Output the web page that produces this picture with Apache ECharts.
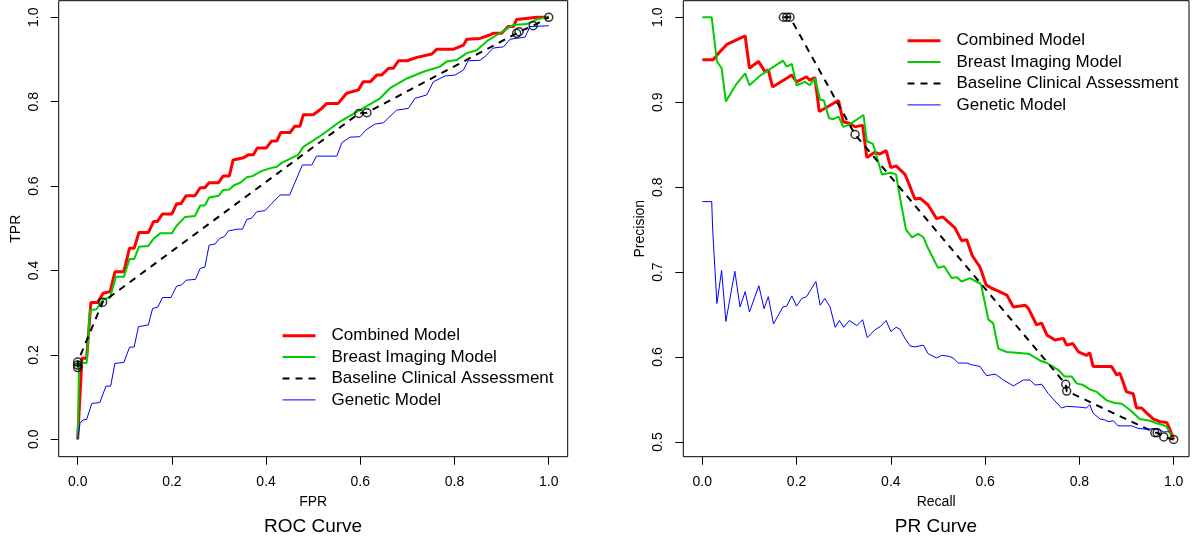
<!DOCTYPE html>
<html>
<head>
<meta charset="utf-8">
<script src="https://cdn.jsdelivr.net/npm/echarts@6/dist/echarts.min.js"></script>
<style>
  html, body { margin: 0; padding: 0; background: #fff; }
  #chart { width: 1194px; height: 542px; }
</style>
</head>
<body>
<div id="chart"></div>
<script>
// --- données ---
const seriesNames = ['Combined Model', 'Breast Imaging Model', 'Baseline Clinical Assessment', 'Genetic Model'];
const rocTicks = [0, 0.2, 0.4, 0.6, 0.8, 1.0];
const prTicksY = [0.5, 0.6, 0.7, 0.8, 0.9, 1.0];

// ROC : [FPR, TPR]
const rocCombined = [
  [0,0],[0.009,0.192],[0.019,0.192],[0.028,0.324],[0.042,0.324],[0.054,0.346],[0.069,0.35],[0.079,0.397],
  [0.098,0.397],[0.110,0.453],[0.120,0.453],[0.130,0.490],[0.150,0.490],[0.161,0.516],[0.169,0.516],
  [0.180,0.534],[0.200,0.534],[0.210,0.558],[0.219,0.558],[0.230,0.577],[0.249,0.577],[0.260,0.596],
  [0.270,0.596],[0.279,0.608],[0.299,0.608],[0.309,0.624],[0.322,0.624],[0.330,0.662],[0.352,0.667],
  [0.362,0.674],[0.373,0.674],[0.381,0.690],[0.400,0.690],[0.412,0.707],[0.423,0.707],[0.431,0.727],
  [0.451,0.727],[0.461,0.742],[0.472,0.742],[0.479,0.769],[0.500,0.769],[0.518,0.784],[0.529,0.796],
  [0.553,0.796],[0.571,0.820],[0.596,0.828],[0.606,0.847],[0.621,0.847],[0.635,0.863],[0.645,0.863],
  [0.660,0.879],[0.670,0.879],[0.681,0.897],[0.699,0.897],[0.720,0.905],[0.752,0.913],[0.762,0.924],
  [0.797,0.924],[0.819,0.934],[0.826,0.948],[0.854,0.950],[0.875,0.958],[0.882,0.962],[0.900,0.962],
  [0.914,0.978],[0.925,0.978],[0.932,0.995],[0.975,1.0],[1.0,1.0]
];
const rocImaging = [
  [0,0],[0.003,0.181],[0.019,0.181],[0.026,0.306],[0.040,0.308],[0.054,0.332],[0.069,0.336],[0.081,0.385],
  [0.098,0.385],[0.110,0.427],[0.120,0.427],[0.130,0.456],[0.150,0.458],[0.161,0.475],[0.175,0.488],
  [0.200,0.488],[0.210,0.506],[0.228,0.527],[0.249,0.529],[0.260,0.554],[0.270,0.554],[0.279,0.573],
  [0.299,0.577],[0.309,0.591],[0.322,0.592],[0.332,0.602],[0.345,0.608],[0.359,0.621],[0.372,0.624],
  [0.391,0.636],[0.408,0.642],[0.423,0.646],[0.433,0.655],[0.468,0.674],[0.479,0.693],[0.493,0.703],
  [0.518,0.721],[0.557,0.753],[0.599,0.780],[0.642,0.808],[0.663,0.832],[0.699,0.855],[0.734,0.871],
  [0.769,0.883],[0.783,0.895],[0.805,0.899],[0.826,0.915],[0.847,0.922],[0.872,0.946],[0.890,0.958],
  [0.925,0.982],[0.953,0.984],[0.975,0.995],[0.996,1.0],[1.0,1.0]
];
const rocBaseline = [
  [0,0.170],[0,0.176],[0,0.183],[0.053,0.325],[0.597,0.772],[0.614,0.774],
  [0.932,0.962],[0.937,0.966],[0.967,0.980],[1.0,1.0]
];
const rocGenetic = [
  [0,0],[0.005,0.038],[0.011,0.046],[0.019,0.047],[0.030,0.085],[0.047,0.087],[0.060,0.126],[0.070,0.126],
  [0.079,0.180],[0.098,0.182],[0.110,0.218],[0.120,0.219],[0.129,0.267],[0.150,0.271],[0.159,0.310],
  [0.170,0.313],[0.180,0.336],[0.198,0.336],[0.210,0.363],[0.221,0.366],[0.230,0.377],[0.250,0.379],
  [0.260,0.405],[0.270,0.408],[0.279,0.460],[0.292,0.463],[0.301,0.476],[0.311,0.480],[0.320,0.494],
  [0.330,0.496],[0.339,0.498],[0.350,0.498],[0.359,0.521],[0.369,0.524],[0.380,0.539],[0.398,0.542],
  [0.412,0.559],[0.430,0.579],[0.450,0.579],[0.477,0.650],[0.497,0.650],[0.507,0.671],[0.550,0.671],
  [0.561,0.703],[0.578,0.716],[0.599,0.717],[0.612,0.733],[0.631,0.747],[0.649,0.750],[0.677,0.780],
  [0.702,0.784],[0.716,0.808],[0.741,0.816],[0.755,0.847],[0.780,0.861],[0.801,0.863],[0.819,0.875],
  [0.829,0.897],[0.854,0.898],[0.868,0.910],[0.882,0.927],[0.904,0.930],[0.918,0.948],[0.950,0.953],
  [0.960,0.978],[1.0,0.980]
];

// PR : [Recall, Precision]
const prCombined = [
  [0,0.950],[0.023,0.950],[0.035,0.958],[0.052,0.968],[0.091,0.978],[0.100,0.940],[0.119,0.948],[0.133,0.936],
  [0.140,0.938],[0.149,0.918],[0.190,0.932],[0.200,0.924],[0.221,0.930],[0.228,0.926],[0.239,0.929],
  [0.248,0.889],[0.289,0.902],[0.299,0.877],[0.313,0.875],[0.324,0.871],[0.340,0.873],[0.349,0.835],
  [0.366,0.841],[0.377,0.839],[0.390,0.843],[0.400,0.823],[0.411,0.825],[0.430,0.815],[0.439,0.803],
  [0.451,0.786],[0.462,0.787],[0.479,0.779],[0.497,0.763],[0.510,0.765],[0.536,0.752],[0.550,0.737],
  [0.561,0.738],[0.573,0.719],[0.589,0.706],[0.602,0.685],[0.614,0.681],[0.627,0.678],[0.646,0.673],
  [0.660,0.659],[0.685,0.661],[0.692,0.657],[0.709,0.638],[0.720,0.640],[0.731,0.626],[0.748,0.620],
  [0.766,0.622],[0.773,0.614],[0.786,0.616],[0.798,0.606],[0.815,0.602],[0.822,0.605],[0.829,0.589],
  [0.868,0.589],[0.879,0.579],[0.886,0.581],[0.900,0.559],[0.914,0.557],[0.921,0.540],[0.932,0.540],
  [0.943,0.534],[0.957,0.527],[0.971,0.524],[0.985,0.523],[0.991,0.516],[1.0,0.503]
];
const prImaging = [
  [0,1.0],[0.020,1.0],[0.031,0.948],[0.041,0.940],[0.050,0.901],[0.073,0.922],[0.091,0.934],[0.100,0.920],
  [0.122,0.931],[0.171,0.949],[0.179,0.942],[0.190,0.945],[0.200,0.920],[0.218,0.924],[0.228,0.920],
  [0.239,0.928],[0.250,0.903],[0.258,0.902],[0.269,0.881],[0.278,0.880],[0.289,0.883],[0.299,0.871],
  [0.310,0.873],[0.342,0.885],[0.349,0.854],[0.362,0.851],[0.381,0.815],[0.400,0.817],[0.411,0.815],
  [0.419,0.789],[0.432,0.750],[0.445,0.741],[0.458,0.745],[0.469,0.741],[0.479,0.728],[0.500,0.705],
  [0.513,0.707],[0.529,0.693],[0.540,0.694],[0.550,0.689],[0.568,0.693],[0.591,0.686],[0.607,0.644],
  [0.617,0.640],[0.628,0.610],[0.646,0.606],[0.692,0.604],[0.716,0.596],[0.731,0.593],[0.755,0.585],
  [0.769,0.577],[0.784,0.577],[0.794,0.569],[0.808,0.567],[0.822,0.562],[0.837,0.559],[0.858,0.549],
  [0.875,0.546],[0.890,0.545],[0.907,0.538],[0.928,0.527],[0.950,0.525],[0.964,0.522],[0.978,0.520],
  [0.985,0.518],[0.996,0.506]
];
const prBaseline = [
  [0.172,1.0],[0.179,1.0],[0.186,1.0],[0.324,0.862],[0.771,0.568],[0.773,0.560],
  [0.960,0.511],[0.965,0.511],[0.979,0.506],[1.0,0.503]
];
const prGenetic = [
  [0,0.783],[0.020,0.783],[0.022,0.750],[0.031,0.663],[0.041,0.702],[0.050,0.642],[0.069,0.701],[0.080,0.659],
  [0.091,0.677],[0.100,0.653],[0.120,0.684],[0.131,0.657],[0.140,0.671],[0.151,0.639],[0.171,0.659],
  [0.179,0.660],[0.190,0.672],[0.200,0.660],[0.211,0.669],[0.221,0.671],[0.241,0.689],[0.250,0.661],
  [0.260,0.669],[0.271,0.659],[0.282,0.635],[0.291,0.643],[0.300,0.635],[0.312,0.643],[0.328,0.637],
  [0.340,0.644],[0.350,0.623],[0.366,0.632],[0.378,0.636],[0.390,0.643],[0.400,0.630],[0.411,0.635],
  [0.419,0.633],[0.430,0.622],[0.441,0.613],[0.451,0.612],[0.469,0.614],[0.479,0.604],[0.497,0.599],
  [0.508,0.602],[0.522,0.601],[0.532,0.599],[0.543,0.593],[0.561,0.593],[0.571,0.591],[0.589,0.589],
  [0.603,0.578],[0.621,0.580],[0.639,0.573],[0.660,0.566],[0.681,0.573],[0.695,0.573],[0.706,0.567],
  [0.720,0.568],[0.734,0.557],[0.752,0.546],[0.762,0.540],[0.773,0.542],[0.801,0.541],[0.815,0.540],
  [0.822,0.544],[0.829,0.534],[0.844,0.527],[0.854,0.526],[0.861,0.524],[0.872,0.525],[0.882,0.519],
  [0.911,0.519],[0.925,0.516],[0.943,0.515],[0.964,0.516],[0.978,0.512],[0.991,0.512]
];

// --- style ---
const FONT = 'Liberation Sans, Arial, Helvetica, sans-serif';
const couleurs = ['#FF0000', '#00CD00', '#000000', '#0000FF'];
const epaisseurs = [3, 2, 2, 1];
const fmt = v => v.toFixed(1);

function makeX(gridIndex, name, min, max) {
    return {
        type: 'value', gridIndex, min, max,
        name, nameLocation: 'middle', nameGap: 38,
        nameTextStyle: { color: '#000', fontSize: 14, fontFamily: FONT },
        axisLine: { show: false, onZero: false },
        axisTick: { show: true, inside: false, length: 8, lineStyle: { color: '#000' }, customValues: rocTicks },
        axisLabel: { color: '#000', fontSize: 14, fontFamily: FONT, margin: 18, formatter: fmt, customValues: rocTicks },
        splitLine: { show: false }
    };
}

function makeY(gridIndex, name, min, max, ticks) {
    return {
        type: 'value', gridIndex, min, max,
        name, nameLocation: 'middle', nameGap: 36,
        nameTextStyle: { color: '#000', fontSize: 14, fontFamily: FONT },
        axisLine: { show: false, onZero: false },
        axisTick: { show: true, inside: false, length: 8, lineStyle: { color: '#000' }, customValues: ticks },
        axisLabel: { color: '#000', fontSize: 14, fontFamily: FONT, margin: 18, rotate: 90, formatter: fmt, customValues: ticks },
        splitLine: { show: false }
    };
}

function courbes(gridIndex, listes) {
    return listes.map((d, i) => ({
        name: seriesNames[i],
        type: 'line',
        xAxisIndex: gridIndex, yAxisIndex: gridIndex,
        data: d,
        symbol: 'none',
        lineStyle: { color: couleurs[i], width: epaisseurs[i], type: i === 2 ? [7, 6] : 'solid' },
        itemStyle: { color: couleurs[i] },
        z: 2 + i
    }));
}

function cercles(gridIndex, d) {
    return {
        type: 'scatter',
        xAxisIndex: gridIndex, yAxisIndex: gridIndex,
        data: d,
        symbol: 'circle',
        symbolSize: 8,
        itemStyle: { color: 'rgba(0,0,0,0)', borderColor: '#000', borderWidth: 1.5 },
        z: 10
    };
}

function legende(left, top) {
    return {
        orient: 'vertical', left, top,
        data: seriesNames,
        itemWidth: 33, itemHeight: 10, itemGap: 0, padding: 0,
        selectedMode: false,
        itemStyle: { opacity: 0 },
        lineStyle: { width: 'inherit', type: 'inherit', color: 'inherit' },
        textStyle: { color: '#000', fontSize: 17, fontFamily: FONT, lineHeight: 21.4, padding: [0, 0, 0, 11] }
    };
}

const chart = echarts.init(document.getElementById('chart'), null, { renderer: 'canvas' });

chart.setOption({
    animation: false,
    backgroundColor: '#fff',
    title: [
        { text: 'ROC Curve', left: 313, top: 517, textAlign: 'center', padding: 0,
          textStyle: { fontSize: 19, fontWeight: 'normal', color: '#000', fontFamily: FONT } },
        { text: 'PR Curve', left: 936, top: 517, textAlign: 'center', padding: 0,
          textStyle: { fontSize: 19, fontWeight: 'normal', color: '#000', fontFamily: FONT } }
    ],
    legend: [legende(281, 325), legende(906, 30)],
    grid: [
        { left: 58.7, top: 0.7, width: 509, height: 456, show: true, borderColor: '#000', borderWidth: 1, backgroundColor: 'transparent' },
        { left: 683.3, top: 0.7, width: 505.7, height: 456, show: true, borderColor: '#000', borderWidth: 1, backgroundColor: 'transparent' }
    ],
    xAxis: [
        makeX(0, 'FPR', -0.0403, 1.0403),
        makeX(1, 'Recall', -0.0403, 1.0325)
    ],
    yAxis: [
        makeY(0, 'TPR', -0.0412, 1.0393, rocTicks),
        makeY(1, 'Precision', 0.4827, 1.0195, prTicksY)
    ],
    series: [
        ...courbes(0, [rocCombined, rocImaging, rocBaseline, rocGenetic]),
        cercles(0, rocBaseline),
        ...courbes(1, [prCombined, prImaging, prBaseline, prGenetic]),
        cercles(1, prBaseline)
    ]
});
</script>
</body>
</html>
